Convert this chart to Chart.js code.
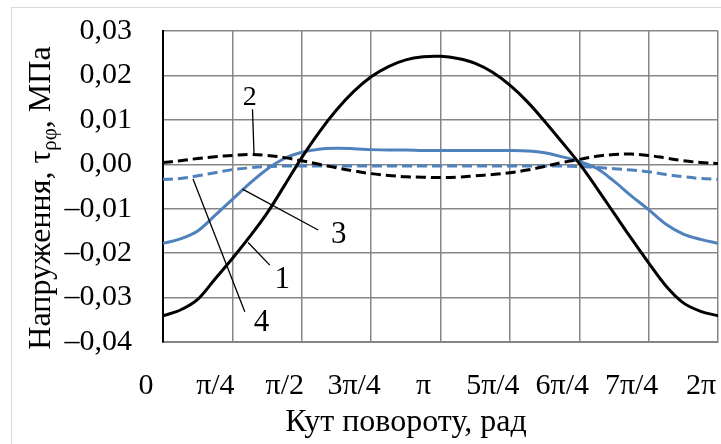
<!DOCTYPE html>
<html>
<head>
<meta charset="utf-8">
<script src="https://cdn.jsdelivr.net/npm/chart.js@4"></script>
<style>
    html, body { margin: 0; padding: 0; background: #ffffff; }
    #wrap { width: 721px; height: 444px; }
</style>
</head>
<body>
<div id="wrap"><canvas id="stressChart" width="721" height="444"></canvas></div>
<script>
// Angle samples, in steps of π/16 (0 .. 2π)
const angleSteps = [0, 1, 2, 3, 4, 5, 6, 7, 8, 9, 10, 11, 12, 13, 14, 15, 16,
    17, 18, 19, 20, 21, 22, 23, 24, 25, 26, 27, 28, 29, 30, 31, 32];

// Curve 1 - black solid
const curve1 = [-0.0341, -0.0328, -0.0304, -0.0258, -0.0212, -0.0163, -0.0110, -0.0048, 0.0015,
    0.0072, 0.0122, 0.0164, 0.0197, 0.0220, 0.0235, 0.0242, 0.0243,
    0.0238, 0.0227, 0.0207, 0.0178, 0.0141, 0.0097, 0.0050, 0.0002,
    -0.0053, -0.0110, -0.0167, -0.0222, -0.0274, -0.0312, -0.0331, -0.0341];

// Curve 2 - black dashed
const curve2 = [0.0004, 0.0008, 0.0013, 0.0017, 0.0020, 0.0022, 0.0020, 0.0015, 0.0008,
    0.0000, -0.0008, -0.0015, -0.0021, -0.0025, -0.0028, -0.0029, -0.0030,
    -0.0029, -0.0026, -0.0023, -0.0019, -0.0013, -0.0005, 0.0004, 0.0011,
    0.0018, 0.0022, 0.0023, 0.0020, 0.0014, 0.0008, 0.0004, 0.0002];

// Curve 3 - blue solid
const curve3 = [-0.0178, -0.0168, -0.0150, -0.0115, -0.0079, -0.0043, -0.0011, 0.0013, 0.0027,
    0.0034, 0.0036, 0.0035, 0.0033, 0.0032, 0.0032, 0.0031, 0.0031,
    0.0031, 0.0031, 0.0031, 0.0031, 0.0030, 0.0026, 0.0017, 0.0006,
    -0.0009, -0.0038, -0.0071, -0.0102, -0.0135, -0.0157, -0.0169, -0.0178];

// Curve 4 - blue dashed
const curve4 = [-0.0034, -0.0032, -0.0026, -0.0019, -0.0012, -0.0008, -0.0005, -0.0004, -0.0004,
    -0.0004, -0.0004, -0.0004, -0.0004, -0.0004, -0.0004, -0.0004, -0.0004,
    -0.0004, -0.0004, -0.0004, -0.0004, -0.0004, -0.0004, -0.0004, -0.0005,
    -0.0007, -0.0010, -0.0013, -0.0017, -0.0023, -0.0028, -0.0032, -0.0034];

// X tick labels at every π/4
const xTickLabels = ['0', 'π/4', 'π/2', '3π/4', 'π', '5π/4', '6π/4', '7π/4', '2π'];

// Curve numbers with leader lines (data units: angle in rad, stress in MPa)
const curveLabels = [
    { text: '2', x: 0.983, y: 0.0150, size: 28, from: [1.013, 0.0124], to: [1.031, 0.0021] },
    { text: '3', x: 1.991, y: -0.0159, size: 31, from: [0.900, -0.0056], to: [1.757, -0.0148] },
    { text: '1', x: 1.351, y: -0.0260, size: 31, from: [0.963, -0.0176], to: [1.209, -0.0227] },
    { text: '4', x: 1.115, y: -0.0358, size: 31, from: [0.340, -0.0033], to: [0.926, -0.0332] }
];

const FONT = '"Liberation Serif", "Times New Roman", serif';
const BLUE = '#4f81bd';
const GRID = '#868686';

function toPoints(values) {
    return angleSteps.map((k, i) => ({ x: k * Math.PI / 16, y: values[i] }));
}

function formatStress(value) {
    const s = Math.abs(value).toFixed(2).replace('.', ',');
    return value < -1e-9 ? '–' + s : s;
}

// Outer frame, axis titles and curve numbers
const decorPlugin = {
    id: 'decor',
    beforeDraw(chart) {
        const ctx = chart.ctx;
        ctx.save();
        ctx.fillStyle = '#ffffff';
        ctx.fillRect(0, 0, chart.width, chart.height);
        ctx.strokeStyle = '#d9d9d9';
        ctx.lineWidth = 1;
        ctx.strokeRect(11.5, 7.5, chart.width + 20, chart.height + 20);
        ctx.restore();
    },
    afterDraw(chart) {
        const ctx = chart.ctx;
        const xs = chart.scales.x;
        const ys = chart.scales.y;
        ctx.save();
        ctx.fillStyle = '#000000';
        ctx.strokeStyle = '#000000';

        // curve numbers and leaders
        ctx.lineWidth = 1.3;
        curveLabels.forEach(item => {
            ctx.beginPath();
            ctx.moveTo(xs.getPixelForValue(item.from[0]), ys.getPixelForValue(item.from[1]));
            ctx.lineTo(xs.getPixelForValue(item.to[0]), ys.getPixelForValue(item.to[1]));
            ctx.stroke();
            ctx.font = item.size + 'px ' + FONT;
            ctx.textAlign = 'center';
            ctx.textBaseline = 'middle';
            ctx.fillText(item.text, xs.getPixelForValue(item.x), ys.getPixelForValue(item.y));
        });

        // x axis title
        ctx.font = '32px ' + FONT;
        ctx.textAlign = 'center';
        ctx.textBaseline = 'alphabetic';
        ctx.fillText('Кут повороту, рад', 406, 431);

        // y axis title with subscript
        const main1 = 'Напруження, τ';
        const sub = 'ρφ';
        const main2 = ', МПа';
        ctx.font = '32px ' + FONT;
        const w1 = ctx.measureText(main1).width;
        const w3 = ctx.measureText(main2).width;
        ctx.font = '21px ' + FONT;
        const w2 = ctx.measureText(sub).width;
        const total = w1 + w2 + w3;
        ctx.translate(50, 198);
        ctx.rotate(-Math.PI / 2);
        ctx.textAlign = 'left';
        let u = -total / 2;
        ctx.font = '32px ' + FONT;
        ctx.fillText(main1, u, 0);
        u += w1;
        ctx.font = '21px ' + FONT;
        ctx.fillText(sub, u, 6);
        u += w2;
        ctx.font = '32px ' + FONT;
        ctx.fillText(main2, u, 0);
        ctx.restore();
    }
};

const lineStyle = {
    pointRadius: 0,
    borderWidth: 3,
    fill: false,
    tension: 0.35
};

new Chart(document.getElementById('stressChart'), {
    type: 'line',
    data: {
        datasets: [
            Object.assign({ label: '1', data: toPoints(curve1), borderColor: '#000000' }, lineStyle),
            Object.assign({ label: '2', data: toPoints(curve2), borderColor: '#000000', borderDash: [10, 5] }, lineStyle),
            Object.assign({ label: '3', data: toPoints(curve3), borderColor: BLUE }, lineStyle),
            Object.assign({ label: '4', data: toPoints(curve4), borderColor: BLUE, borderDash: [10, 5] }, lineStyle)
        ]
    },
    options: {
        responsive: false,
        animation: false,
        layout: {
            padding: { left: 0, right: 3, top: 31, bottom: 0 }
        },
        plugins: {
            legend: { display: false },
            tooltip: { enabled: false }
        },
        scales: {
            x: {
                type: 'linear',
                min: 0,
                max: 2 * Math.PI,
                afterBuildTicks: function(scale) {
                    scale.ticks = xTickLabels.map((_, i) => ({ value: i * Math.PI / 4 }));
                },
                afterFit: function(scale) {
                    scale.height = 102;
                    scale.paddingLeft = 0;
                    scale.paddingRight = 0;
                },
                ticks: {
                    autoSkip: false,
                    maxRotation: 0,
                    padding: 26,
                    labelOffset: -17,
                    color: '#000000',
                    font: { family: FONT, size: 30 },
                    callback: function(value, index) {
                        return xTickLabels[index];
                    }
                },
                grid: { color: GRID, lineWidth: 1.5, drawTicks: false },
                border: { color: GRID, width: 2 }
            },
            y: {
                min: -0.04,
                max: 0.03,
                afterFit: function(scale) {
                    scale.width = 163;
                    scale.paddingTop = 0;
                    scale.paddingBottom = 0;
                },
                ticks: {
                    stepSize: 0.01,
                    padding: 31,
                    color: '#000000',
                    font: { family: FONT, size: 30 },
                    callback: function(value) {
                        return formatStress(value);
                    }
                },
                grid: { color: GRID, lineWidth: 1.5, drawTicks: false },
                border: { color: '#000000', width: 2 }
            }
        }
    },
    plugins: [decorPlugin]
});
</script>
</body>
</html>
